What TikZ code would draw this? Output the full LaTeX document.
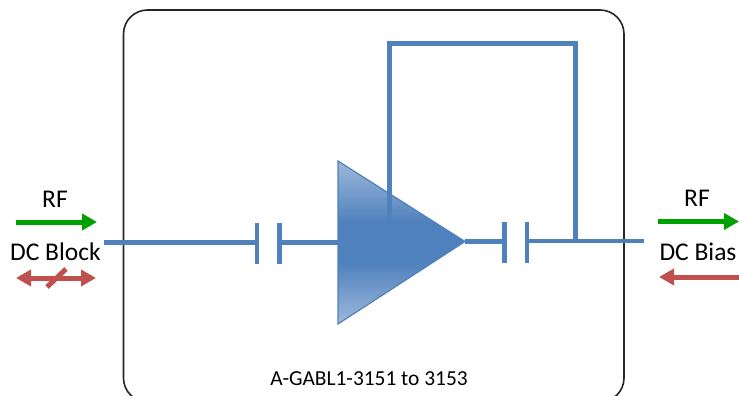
\documentclass[tikz,border=0pt]{standalone}
\usepackage{fontspec}
\setmainfont{Carlito}
\usetikzlibrary{arrows.meta}
\definecolor{wire}{HTML}{4F81BD}
\definecolor{wirelight}{HTML}{9DB8DA}
\definecolor{sigGreen}{HTML}{00A000}
\definecolor{dcRed}{HTML}{C0504D}
\pgfdeclareverticalshading{ampfade}{100bp}{color(0bp)=(wirelight); color(25bp)=(wirelight); color(44bp)=(wire); color(56bp)=(wire); color(75bp)=(wirelight); color(100bp)=(wirelight)}
\tikzset{
  x=1pt,y=-1pt,
  housing/.style={draw=black!85,line width=1.6pt,rounded corners=24pt,minimum width=500.5pt,minimum height=392pt,inner sep=0pt},
  wireline/.style={draw=wire,line width=4.8pt},
  plate/.style={draw=wire,line width=4.8pt},
  amp/.style={draw=wire,line width=1.2pt,shading=ampfade},
  label/.style={inner sep=0pt,font=\fontsize{25.5}{28}\selectfont},
  smalllabel/.style={inner sep=0pt,font=\fontsize{21.4}{25}\selectfont},
  rfarrow/.style={draw=sigGreen,line width=5pt,-{Triangle[width=16pt,length=15pt]}},
  dcarrow/.style={draw=dcRed,line width=5pt,-{Triangle[width=16pt,length=15pt]}},
  dcboth/.style={draw=dcRed,line width=5pt,{Triangle[width=16pt,length=15pt]}-{Triangle[width=16pt,length=15pt]}},
  dcslash/.style={draw=dcRed,line width=5pt}
}
\begin{document}
\begin{tikzpicture}
\clip (0,0) rectangle (739,396);
\fill[white] (0,0) rectangle (739,396);
\node[housing] (box) at (373.75,206) {};
% coordinates
\coordinate (inL) at (104,242.5);
\coordinate (c1a) at (257,242.5);
\coordinate (c1b) at (279.3,242.5);
\coordinate (ampTop) at (338,161);
\coordinate (ampBot) at (338,324);
\coordinate (ampTip) at (465,241.5);
\coordinate (ampIn) at (338,242.5);
\coordinate (c2a) at (504.5,241.5);
\coordinate (c2b) at (527,241);
\coordinate (tap) at (575.5,241);
\coordinate (outR) at (644,241);
\coordinate (fbA) at (575.5,43.5);
\coordinate (fbB) at (389.5,43.5);
\coordinate (fbC) at (389.5,228);
% wires behind amp
\draw[wireline] (inL) -- (c1a);
\draw[plate] (257,223) -- (257,264);
\draw[plate] (279.3,223) -- (279.3,264);
\draw[wireline] (c1b) -- (ampIn);
\draw[wireline] (ampTip) -- (c2a);
\draw[plate] (504.5,222) -- (504.5,263);
\draw[plate] (527,222) -- (527,263);
\draw[wireline] (c2b) -- (outR);
% amplifier
\shadedraw[amp] (ampTop) -- (ampTip) -- (ampBot) -- cycle;
% feedback
\draw[wireline,line join=miter] (tap) -- (fbA) -- (fbB) -- (fbC);
% left side
\node[label] (rfL) at (55,199) {RF};
\draw[rfarrow] (16,222) coordinate (gLa) -- (97,222) coordinate (gLb);
\node[label] (dcL) at (55.5,252) {DC Block};
\draw[dcboth] (16,278) coordinate (rLa) -- (96,278) coordinate (rLb);
\draw[dcslash] (47,287) coordinate (sa) -- (66,269) coordinate (sb);
% right side
\node[label] (rfR) at (697,198) {RF};
\draw[rfarrow] (658,221.5) coordinate (gRa) -- (739,221.5) coordinate (gRb);
\node[label] (dcR) at (698,252) {DC Bias};
\draw[dcarrow] (739,277) coordinate (rRa) -- (659,277) coordinate (rRb);
% part number
\node[smalllabel] (part) at (369,379) {A-GABL1-3151 to 3153};
\end{tikzpicture}
\end{document}
